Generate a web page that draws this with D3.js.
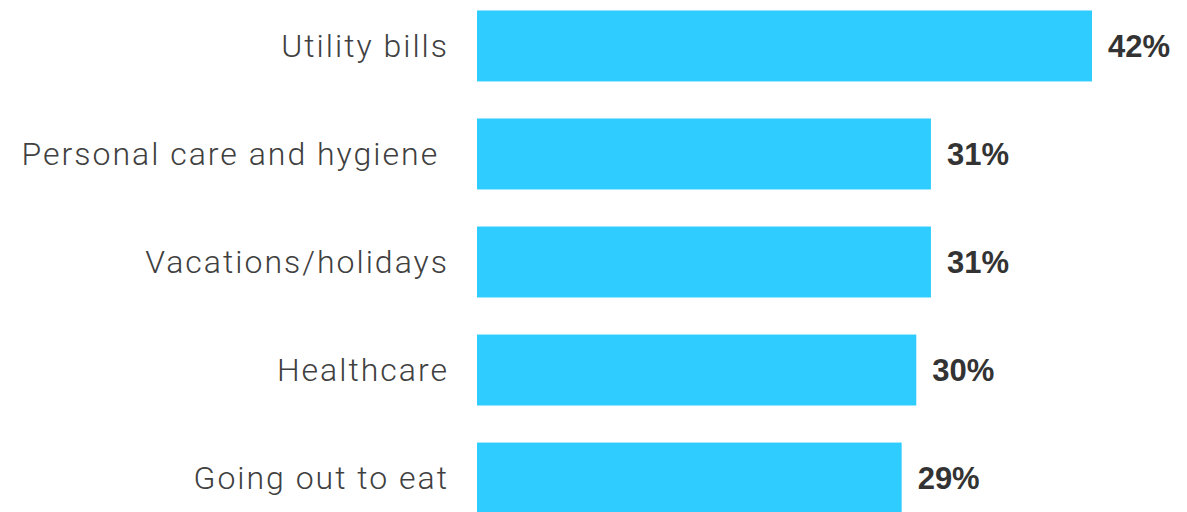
<!DOCTYPE html>
<html>
<head>
<meta charset="utf-8">
<script src="https://cdn.jsdelivr.net/npm/d3@7"></script>
<style>
  body { margin: 0; background: #fff; }
  text { white-space: pre; }
</style>
</head>
<body>
<div id="chart"></div>
<script>
// data
const categories = ["Utility bills", "Personal care and hygiene ", "Vacations/holidays", "Healthcare", "Going out to eat"];
const values = [42, 31, 31, 30, 29];

const width = 1187;
const height = 512;

const svg = d3.select("#chart")
  .append("svg")
  .attr("width", width)
  .attr("height", height);

// x scale: 0 at bar start
const x = d3.scaleLinear()
  .domain([0, 42])
  .range([477, 1092]);

// band scale for rows
const y = d3.scaleBand()
  .domain(categories)
  .range([-8, 532])
  .paddingInner(0.343)
  .paddingOuter(0.171);

svg.selectAll("rect")
  .data(values)
  .enter()
  .append("rect")
  .attr("x", x(0))
  .attr("y", (d, i) => y(categories[i]))
  .attr("width", d => x(d) - x(0))
  .attr("height", y.bandwidth())
  .attr("fill", "#2ECCFF");

// category labels
svg.selectAll(".cat")
  .data(categories)
  .enter()
  .append("text")
  .attr("class", "cat")
  .attr("x", 449)
  .attr("y", d => y(d) + y.bandwidth() / 2)
  .attr("dy", "0.35em")
  .attr("text-anchor", "end")
  .style("font-family", "Roboto, 'Open Sans', sans-serif")
  .style("font-weight", 300)
  .style("font-size", "32px")
  .style("letter-spacing", "2px")
  .style("fill", "#404040")
  .text(d => d);

// value labels
svg.selectAll(".val")
  .data(values)
  .enter()
  .append("text")
  .attr("class", "val")
  .attr("x", d => x(d) + 16)
  .attr("y", (d, i) => y(categories[i]) + y.bandwidth() / 2)
  .attr("dy", "0.36em")
  .style("font-family", "'Liberation Sans', Arial, sans-serif")
  .style("font-weight", 700)
  .style("font-size", "31px")
  .style("fill", "#333333")
  .text(d => d + "%");
</script>
</body>
</html>
